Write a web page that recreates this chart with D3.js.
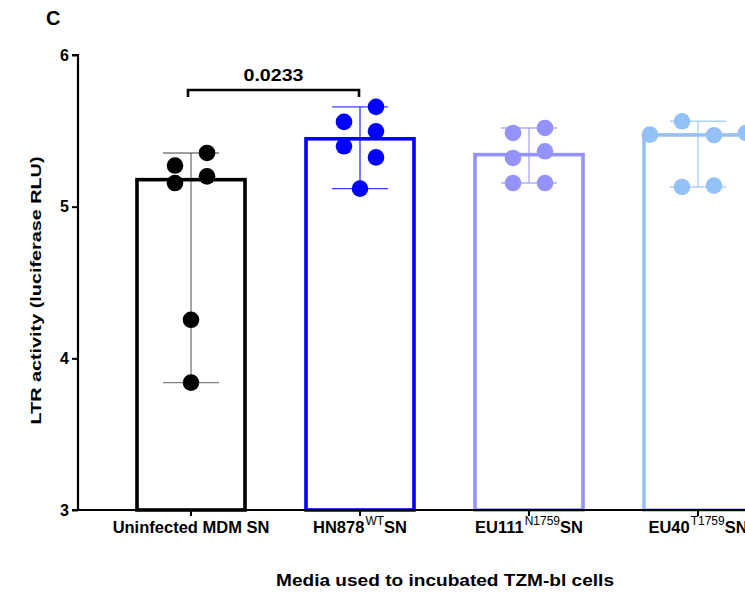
<!DOCTYPE html>
<html>
<head>
<meta charset="utf-8">
<script src="https://cdn.jsdelivr.net/npm/d3@7"></script>
<style>
  html, body { margin: 0; padding: 0; background: #fff; overflow: hidden; }
  svg { display: block; font-family: "Liberation Sans", Arial, sans-serif; }
</style>
</head>
<body>
<svg id="chart" width="745" height="595"></svg>
<script>
// LTR activity per supernatant group (log10 luciferase RLU), six replicates each
const categories = ["Uninfected MDM SN", "HN878 WT SN", "EU111 N1759 SN", "EU40 T1759 SN"];
const labelBase = ["Uninfected MDM SN", "HN878", "EU111", "EU40"];
const labelSup  = ["", "WT", "N1759", "T1759"];
const labelTail = ["", "SN", "SN", "SN"];

const uninfected = [5.354, 5.271, 5.156, 5.200, 4.254, 3.840];
const hn878      = [5.658, 5.559, 5.497, 5.398, 5.325, 5.119];
const eu111      = [5.519, 5.486, 5.365, 5.321, 5.156, 5.156];
const eu40       = [5.563, 5.471, 5.475, 5.486, 5.130, 5.139];

// horizontal scatter slot of each replicate dot
const jitterUninfected = [1, -1, -1, 1, 0, 0];
const jitterHn878      = [1, -1, 1, -1, 1, 0];
const jitterEu111      = [1, -1, 1, -1, -1, 1];
const jitterEu40       = [-1, 1, -3, 3, -1, 1];

const colors = ["#000000", "#0000ff", "#9393fb", "#94c1f7"];

const yTicks = [3, 4, 5, 6];
const pValue = "0.0233";
const yTitle = "LTR activity (luciferase RLU)";
const xTitle = "Media used to incubated TZM-bl cells";
const panelLetter = "C";

const groups = [uninfected, hn878, eu111, eu40].map((vals, i) => ({
  cat: categories[i],
  vals,
  jitter: [jitterUninfected, jitterHn878, jitterEu111, jitterEu40][i],
  color: colors[i]
}));

const svg = d3.select("#chart");

const axisX0 = 78;
const y = d3.scaleLinear().domain([3, 6]).range([510, 55]);
const x = d3.scalePoint().domain(categories).range([191, 698]);
const barW = 108;
const slot = 16;
const r = 8.3;
const capHalf = 28;

// bars: median height, open outline
const barG = svg.append("g");
groups.forEach(g => {
  const med = d3.median(g.vals);
  const cx = x(g.cat);
  barG.append("rect")
    .attr("x", cx - barW / 2)
    .attr("y", y(med))
    .attr("width", barW)
    .attr("height", y(3) - y(med))
    .attr("fill", "none")
    .attr("stroke", g.color)
    .attr("stroke-width", 3.6);
});

// range error bars
const errG = svg.append("g");
groups.forEach(g => {
  const [lo, hi] = d3.extent(g.vals);
  const cx = x(g.cat);
  const eg = errG.append("g")
    .attr("stroke", g.color)
    .attr("stroke-width", 1.4)
    .attr("stroke-opacity", g.color === "#000000" ? 0.5 : 0.75);
  eg.append("line").attr("x1", cx).attr("x2", cx).attr("y1", y(hi)).attr("y2", y(lo));
  eg.append("line").attr("x1", cx - capHalf).attr("x2", cx + capHalf).attr("y1", y(hi)).attr("y2", y(hi));
  eg.append("line").attr("x1", cx - capHalf).attr("x2", cx + capHalf).attr("y1", y(lo)).attr("y2", y(lo));
});

// replicate dots
const dotG = svg.append("g");
groups.forEach(g => {
  dotG.selectAll(null)
    .data(g.vals.map((v, i) => ({ v, j: g.jitter[i] })))
    .join("circle")
    .attr("cx", d => x(g.cat) + d.j * slot)
    .attr("cy", d => y(d.v))
    .attr("r", r)
    .attr("fill", g.color);
});

// y axis
const yAxis = d3.axisLeft(y).tickValues(yTicks).tickFormat(d3.format("d")).tickSize(6).tickPadding(3);
const yg = svg.append("g").attr("transform", `translate(${axisX0},0)`).call(yAxis);
yg.select(".domain").attr("stroke", "#000").attr("stroke-width", 2.2).attr("d", `M-6,${y(6)}H0V${y(3)}`);
yg.selectAll(".tick line").attr("stroke", "#000").attr("stroke-width", 2);
yg.selectAll(".tick text")
  .attr("fill", "#000")
  .attr("font-size", 16)
  .attr("font-weight", "bold")
  .attr("font-family", "'Liberation Sans', Arial, sans-serif");

// x axis line and category ticks
const xg = svg.append("g").attr("transform", `translate(0,${y(3)})`);
xg.append("line").attr("x1", axisX0 - 6).attr("x2", 760).attr("y1", 0).attr("y2", 0)
  .attr("stroke", "#000").attr("stroke-width", 2.2);
xg.selectAll(".xtick").data(categories).join("line")
  .attr("class", "xtick")
  .attr("x1", d => x(d)).attr("x2", d => x(d))
  .attr("y1", 0).attr("y2", 6)
  .attr("stroke", "#000").attr("stroke-width", 2);

// category labels with superscript strain tags
categories.forEach((c, i) => {
  const t = svg.append("text")
    .attr("x", x(c))
    .attr("y", 533)
    .attr("text-anchor", "middle")
    .attr("font-size", 16.5)
    .attr("font-weight", "bold")
    .attr("fill", "#000");
  t.append("tspan").text(labelBase[i]);
  if (labelSup[i]) {
    t.append("tspan").attr("font-size", 12).attr("font-weight", "normal").attr("dy", -8).attr("dx", 1).text(labelSup[i]);
    t.append("tspan").attr("dy", 8).text(labelTail[i]);
  }
});

// axis titles
svg.append("text")
  .attr("x", 445).attr("y", 586)
  .attr("text-anchor", "middle")
  .attr("font-size", 16.5).attr("font-weight", "bold")
  .attr("textLength", 338).attr("lengthAdjust", "spacingAndGlyphs")
  .text(xTitle);

svg.append("text")
  .attr("transform", `translate(40.5,${(156 + 425) / 2}) rotate(-90)`)
  .attr("text-anchor", "middle")
  .attr("font-size", 15.5).attr("font-weight", "bold")
  .attr("textLength", 268).attr("lengthAdjust", "spacingAndGlyphs")
  .text(yTitle);

// significance bracket between the first two groups
const bx1 = x(categories[0]) - 3, bx2 = x(categories[1]) - 1, by = 90;
svg.append("path")
  .attr("d", `M${bx1},${by + 7}V${by}H${bx2}V${by + 7}`)
  .attr("fill", "none").attr("stroke", "#000").attr("stroke-width", 2.6);
svg.append("text")
  .attr("x", (bx1 + bx2) / 2).attr("y", 80.5)
  .attr("text-anchor", "middle")
  .attr("font-size", 17).attr("font-weight", "bold")
  .attr("textLength", 60).attr("lengthAdjust", "spacingAndGlyphs")
  .text(pValue);

// panel letter
svg.append("text")
  .attr("x", 46).attr("y", 25)
  .attr("font-size", 20).attr("font-weight", "bold")
  .text(panelLetter);
</script>
</body>
</html>
